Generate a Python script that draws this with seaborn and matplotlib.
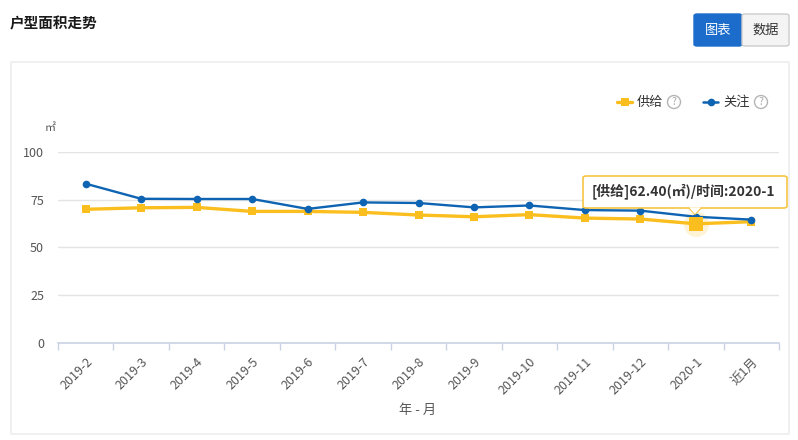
import numpy as np
import pandas as pd
import seaborn as sns
import matplotlib.pyplot as plt
from matplotlib.patches import FancyBboxPatch, Rectangle, Ellipse, Polygon

# data
months = ["2019-2", "2019-3", "2019-4", "2019-5", "2019-6", "2019-7", "2019-8",
          "2019-9", "2019-10", "2019-11", "2019-12", "2020-1", "近1月"]
supply = [70.0, 70.8, 71.0, 68.9, 68.9, 68.4, 67.0, 66.1, 67.2, 65.4, 64.9, 62.4, 63.5]
attention = [83.4, 75.5, 75.4, 75.4, 70.2, 73.6, 73.3, 71.0, 72.0, 69.6, 69.3, 66.1, 64.6]
yticks = [0, 25, 50, 75, 100]

yellow = "#FABE1E"
blue = "#0E64B2"

sns.set_theme(style="white")
plt.rcParams["font.family"] = ["Noto Sans CJK SC", "DejaVu Sans"]

W, H = 798, 440
fig = plt.figure(figsize=(W / 100, H / 100), dpi=100)


def fx(px):
    return px / W


def fy(py):
    return 1 - py / H


# panel frame
fig.patches.append(Rectangle((fx(11), fy(434)), fx(778), 372 / H, transform=fig.transFigure,
                             facecolor="none", edgecolor="#eeeeee", lw=1.2, zorder=0))

# title and buttons
fig.text(fx(10), fy(23), "户型面积走势", fontsize=10.5, color="#1a1a1a",
         fontweight="bold", va="center", ha="left")
fig.patches.append(FancyBboxPatch((fx(694), fy(46)), fx(48), 32 / H, transform=fig.transFigure,
                                  boxstyle="round,pad=0,rounding_size=0.004",
                                  facecolor="#1B6CCB", edgecolor="#1B6CCB", lw=1))
fig.patches.append(FancyBboxPatch((fx(742), fy(46)), fx(47), 32 / H, transform=fig.transFigure,
                                  boxstyle="round,pad=0,rounding_size=0.004",
                                  facecolor="#f4f4f4", edgecolor="#cccccc", lw=1))
fig.text(fx(718), fy(30), "图表", color="white", fontsize=9.5, ha="center", va="center")
fig.text(fx(765.5), fy(30), "数据", color="#333333", fontsize=9.5, ha="center", va="center")

ax = fig.add_axes([fx(58), fy(343), fx(779 - 58), (343 - 152) / H])

df = pd.DataFrame({"month": months, "供给": supply, "关注": attention})

sns.lineplot(data=df, x="month", y="供给", ax=ax, color=yellow, lw=2.4,
             marker="s", markersize=5.5, markeredgewidth=0, zorder=3)
sns.lineplot(data=df, x="month", y="关注", ax=ax, color=blue, lw=1.7,
             marker="o", markersize=5.5, markeredgewidth=0, zorder=4)

# highlighted point under the tooltip
hi = months.index("2020-1")
ax.scatter([hi], [supply[hi]], s=330, color=yellow, alpha=0.18, lw=0, zorder=2)
ax.scatter([hi], [supply[hi]], s=95, marker="s", color=yellow, lw=0, zorder=5)

ax.set_xlim(-0.5, len(months) - 0.5)
ax.set_ylim(0, 100)
ax.set_yticks(yticks)
ax.set_yticklabels([str(v) for v in yticks])
for v in yticks[1:]:
    ax.axhline(v, color="#e4e4e4", lw=1, zorder=1)

ax.set_xticks(range(len(months)))
ax.set_xticklabels(months, rotation=45, ha="right", rotation_mode="anchor",
                   fontsize=9, color="#555555")
ax.set_xticks(np.arange(-0.5, len(months)), minor=True)
ax.tick_params(axis="x", which="major", length=0, pad=9)
ax.tick_params(axis="x", which="minor", length=5, width=1, color="#c9d2e3", direction="out",
               bottom=True)
ax.tick_params(axis="y", length=0, pad=10, labelsize=9, labelcolor="#555555")

for s in ["top", "right", "left"]:
    ax.spines[s].set_visible(False)
ax.spines["bottom"].set_color("#c9d2e3")
ax.spines["bottom"].set_linewidth(1.2)

ax.set_xlabel("")
ax.set_ylabel("")
fig.text(fx(418), fy(410), "年 - 月", fontsize=9.5, color="#555555", ha="center", va="center")
fig.text(fx(50), fy(128), "㎡", fontsize=8, color="#555555", ha="center", va="center")

# legend
fig.lines.append(plt.Line2D([fx(617), fx(632)], [fy(102), fy(102)], transform=fig.transFigure,
                            color=yellow, lw=2.4))
fig.lines.append(plt.Line2D([fx(624.5)], [fy(102)], transform=fig.transFigure,
                            color=yellow, marker="s", markersize=5.5, markeredgewidth=0))
fig.text(fx(637), fy(102), "供给", fontsize=9.5, color="#333333", va="center")
fig.lines.append(plt.Line2D([fx(703), fx(718)], [fy(102), fy(102)], transform=fig.transFigure,
                            color=blue, lw=1.8))
fig.lines.append(plt.Line2D([fx(710.5)], [fy(102)], transform=fig.transFigure,
                            color=blue, marker="o", markersize=5.5, markeredgewidth=0))
fig.text(fx(723), fy(102), "关注", fontsize=9.5, color="#333333", va="center")
for cx in [674, 761]:
    fig.patches.append(Ellipse((fx(cx), fy(102)), 13 / W, 13 / H, transform=fig.transFigure,
                               facecolor="white", edgecolor="#b5b5b5", lw=1))
    fig.text(fx(cx), fy(102), "?", fontsize=7.5, color="#aaaaaa", ha="center", va="center")

# tooltip
fig.patches.append(FancyBboxPatch((fx(583), fy(208)), fx(204), 32 / H, transform=fig.transFigure,
                                  boxstyle="round,pad=0,rounding_size=0.004",
                                  facecolor="white", edgecolor="#F5C542", lw=1.2, zorder=6))
fig.patches.append(Polygon([[fx(689), fy(207.3)], [fx(701), fy(207.3)], [fx(695), fy(214)]],
                           closed=True, transform=fig.transFigure, facecolor="white",
                           edgecolor="none", zorder=7))
fig.lines.append(plt.Line2D([fx(689), fx(695), fx(701)], [fy(208), fy(214), fy(208)],
                            transform=fig.transFigure, color="#F5C542", lw=1.2, zorder=7))
fig.text(fx(592), fy(191.5), "[供给]62.40(㎡)/时间:2020-1", fontsize=10, color="#333333",
         fontweight="bold", ha="left", va="center", zorder=8)

fig.savefig("out.png", dpi=100)
